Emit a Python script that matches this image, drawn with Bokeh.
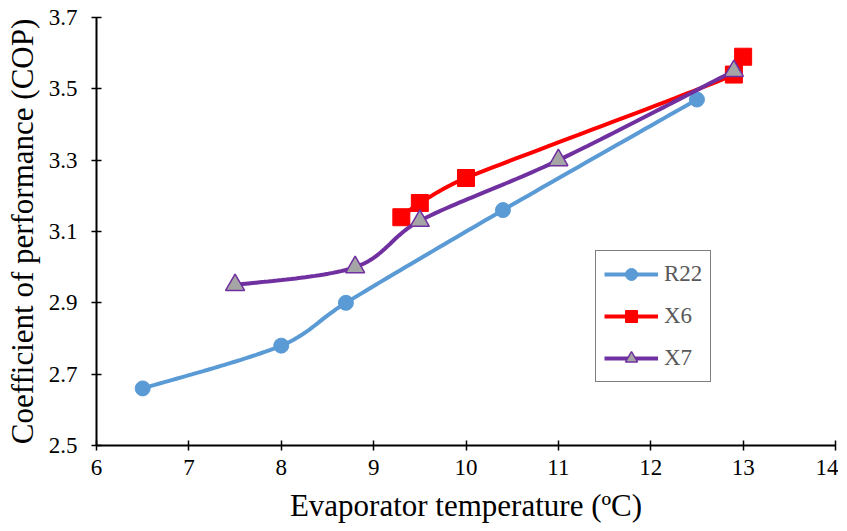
from bokeh.plotting import figure
from bokeh.models import Range1d, FixedTicker, NumeralTickFormatter, Legend, LegendItem
from bokeh.embed import file_html
from bokeh.resources import INLINE

# ---- data ----
r22_x = [6.5, 8.0, 8.7, 10.4, 12.5]
r22_y = [2.66, 2.78, 2.90, 3.16, 3.47]
x6_x = [9.3, 9.5, 10.0, 12.9, 13.0]
x6_y = [3.14, 3.18, 3.25, 3.54, 3.59]
x7_x = [7.5, 8.8, 9.5, 11.0, 12.9]
x7_y = [2.95, 3.00, 3.13, 3.30, 3.55]
x_ticks = [6, 7, 8, 9, 10, 11, 12, 13, 14]
y_ticks = [2.5, 2.7, 2.9, 3.1, 3.3, 3.5, 3.7]

X0, X1, Y0, Y1 = 6, 14, 2.5, 3.7
FW, FH = 739.0, 428.0  # frame size in px for normalisation


def _clamp(vx, vy, maxlen):
    ln = (vx * vx + vy * vy) ** 0.5
    if ln > maxlen and ln > 0:
        s = maxlen / ln
        return vx * s, vy * s
    return vx, vy


def smooth(xs, ys, n=30):
    # Excel-like smoothed line (cubic Bezier, control points at 1/6 of neighbours)
    px = [(x - X0) / (X1 - X0) * FW for x in xs]
    py = [(y - Y0) / (Y1 - Y0) * FH for y in ys]
    m = len(px)
    outx, outy = [], []
    for i in range(m - 1):
        p0 = (px[max(i - 1, 0)], py[max(i - 1, 0)])
        p1 = (px[i], py[i])
        p2 = (px[i + 1], py[i + 1])
        p3 = (px[min(i + 2, m - 1)], py[min(i + 2, m - 1)])
        seg = ((p2[0] - p1[0]) ** 2 + (p2[1] - p1[1]) ** 2) ** 0.5
        v1 = _clamp((p2[0] - p0[0]) / 6, (p2[1] - p0[1]) / 6, seg / 2.5)
        v2 = _clamp((p3[0] - p1[0]) / 6, (p3[1] - p1[1]) / 6, seg / 2.5)
        c1 = (p1[0] + v1[0], p1[1] + v1[1])
        c2 = (p2[0] - v2[0], p2[1] - v2[1])
        for k in range(n + (1 if i == m - 2 else 0)):
            t = k / n
            a = (1 - t) ** 3
            b = 3 * (1 - t) ** 2 * t
            c = 3 * (1 - t) * t ** 2
            d = t ** 3
            sx = a * p1[0] + b * c1[0] + c * c2[0] + d * p2[0]
            sy = a * p1[1] + b * c1[1] + c * c2[1] + d * p2[1]
            outx.append(sx / FW * (X1 - X0) + X0)
            outy.append(sy / FH * (Y1 - Y0) + Y0)
    return outx, outy


p = figure(width=838, height=531, output_backend="svg", toolbar_location=None,
           x_range=Range1d(X0, X1), y_range=Range1d(Y0, Y1),
           min_border_left=96, min_border_right=3, min_border_top=17, min_border_bottom=86)
p.outline_line_color = None
p.xgrid.visible = False
p.ygrid.visible = False

FONT = "'Liberation Serif', 'Times New Roman', serif"
for ax in (p.xaxis[0], p.yaxis[0]):
    ax.axis_line_width = 2
    ax.axis_line_color = "black"
    ax.major_tick_line_width = 1.5
    ax.major_tick_line_color = "black"
    ax.major_tick_in = 5
    ax.major_tick_out = 5
    ax.minor_tick_line_color = None
    ax.major_label_text_font = FONT
    ax.major_label_text_font_size = "23px"
    ax.major_label_text_color = "black"
    ax.axis_label_text_font = FONT
    ax.axis_label_text_font_size = "31px"
    ax.axis_label_text_font_style = "normal"
    ax.axis_label_text_color = "black"

p.xaxis.ticker = FixedTicker(ticks=x_ticks)
p.yaxis.ticker = FixedTicker(ticks=y_ticks)
p.xaxis.formatter = NumeralTickFormatter(format="0")
p.yaxis.formatter = NumeralTickFormatter(format="0.0")
p.xaxis.axis_label = "Evaporator temperature (ºC)"
p.yaxis.axis_label = "Coefficient of performance (COP)"
p.xaxis.major_label_standoff = 9
p.yaxis.major_label_standoff = 14
p.xaxis.axis_label_standoff = 10
p.yaxis.axis_label_standoff = 6

items = []
sx, sy = smooth(r22_x, r22_y)
l1 = p.line(sx, sy, line_color="#5B9BD5", line_width=4)
m1 = p.scatter(r22_x, r22_y, marker="circle", size=15, fill_color="#5B9BD5", line_color="#5B9BD5")
items.append(LegendItem(label="R22", renderers=[l1, m1]))

sx, sy = smooth(x6_x, x6_y)
l2 = p.line(sx, sy, line_color="#FF0000", line_width=4)
m2 = p.scatter(x6_x, x6_y, marker="square", size=17, fill_color="#FF0000", line_color="#FF0000")
items.append(LegendItem(label="X6", renderers=[l2, m2]))

sx, sy = smooth(x7_x, x7_y)
l3 = p.line(sx, sy, line_color="#7030A0", line_width=4)
m3 = p.scatter(x7_x, x7_y, marker="triangle", size=19, fill_color="#A5A5A5", line_color="#7030A0", line_width=1.5)
items.append(LegendItem(label="X7", renderers=[l3, m3]))

legend = Legend(items=items, location=(499, 63), orientation="vertical",
                border_line_color="black", border_line_width=1.5,
                background_fill_alpha=1,
                label_text_font=FONT, label_text_font_size="23px", label_text_color="#595959",
                glyph_width=54, glyph_height=30, label_height=30, label_standoff=6,
                spacing=12, padding=8, margin=0)
p.add_layout(legend, "center")

open("out.html", "w").write(file_html(p, INLINE))
